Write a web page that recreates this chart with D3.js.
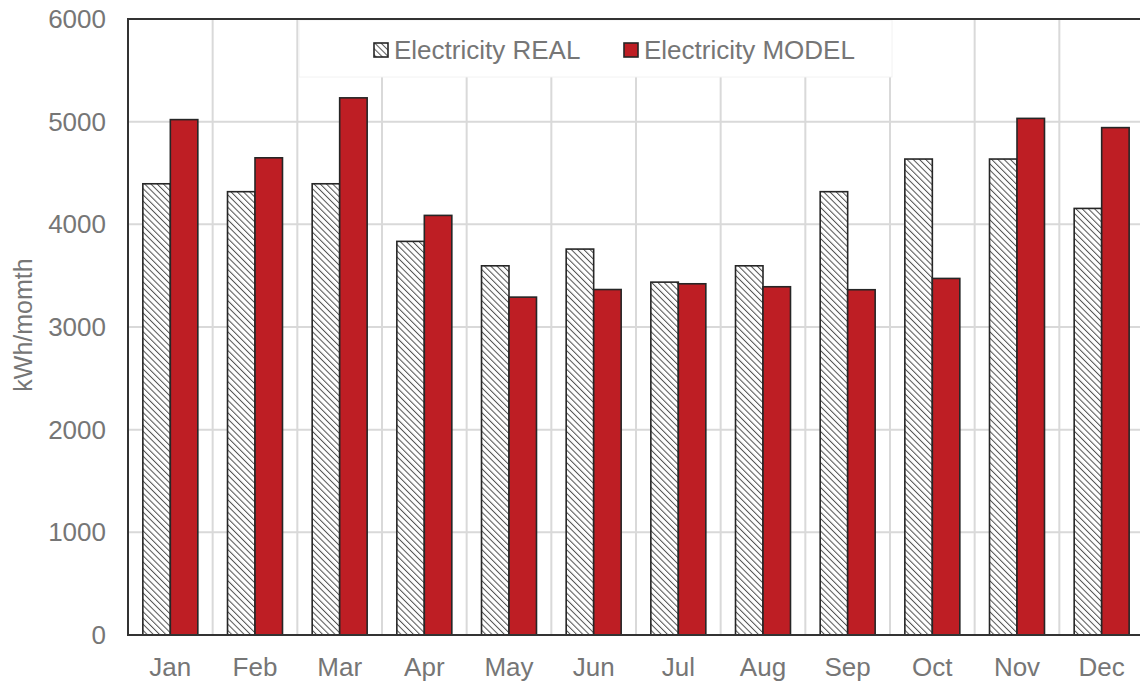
<!DOCTYPE html>
<html>
<head>
<meta charset="utf-8">
<script src="https://cdn.jsdelivr.net/npm/d3@7"></script>
<style>
  body { margin: 0; background: #fff; }
  svg text { font-family: "Liberation Sans", Arial, sans-serif; fill: #767676; }
</style>
</head>
<body>
<div id="vis"></div>
<script>
var months = ["Jan", "Feb", "Mar", "Apr", "May", "Jun", "Jul", "Aug", "Sep", "Oct", "Nov", "Dec"];
var realValues = [4395, 4318, 4395, 3834, 3596, 3759, 3437, 3596, 4318, 4636, 4636, 4155];
var modelValues = [5020, 4648, 5232, 4087, 3291, 3365, 3421, 3392, 3363, 3473, 5032, 4942];
var seriesNames = ["Electricity REAL", "Electricity MODEL"];
var yTicks = [0, 1000, 2000, 3000, 4000, 5000, 6000];

var w = 1140, h = 682;
var plotLeft = 128, plotRight = 1144, plotTop = 19, plotBottom = 635;

var svg = d3.select("#vis").append("svg")
  .attr("width", w)
  .attr("height", h);

// hatch pattern for the REAL series (downward diagonal)
var defs = svg.append("defs");
var pat = defs.append("pattern")
  .attr("id", "hatch")
  .attr("patternUnits", "userSpaceOnUse")
  .attr("width", 4.4)
  .attr("height", 4.4)
  .attr("patternTransform", "rotate(-45)");
pat.append("rect").attr("width", 4.4).attr("height", 4.4).attr("fill", "#fff");
pat.append("line")
  .attr("x1", 0).attr("y1", 0).attr("x2", 0).attr("y2", 4.4)
  .attr("stroke", "#505050").attr("stroke-width", 2);

var x0 = d3.scaleBand().domain(months).range([plotLeft, plotRight]);
var x1 = d3.scaleBand().domain(seriesNames).range([0, x0.bandwidth()]).paddingOuter(0.54);
var y = d3.scaleLinear().domain([0, 6000]).range([plotBottom, plotTop]);

// gridlines
svg.append("g").selectAll("line")
  .data(yTicks.filter(function(d){ return d > 0 && d < 6000; }))
  .enter().append("line")
  .attr("x1", plotLeft).attr("x2", plotRight)
  .attr("y1", function(d){ return y(d); })
  .attr("y2", function(d){ return y(d); })
  .attr("stroke", "#d9d9d9").attr("stroke-width", 2);

svg.append("g").selectAll("line")
  .data(months.slice(1))
  .enter().append("line")
  .attr("x1", function(d){ return x0(d); })
  .attr("x2", function(d){ return x0(d); })
  .attr("y1", plotTop).attr("y2", plotBottom)
  .attr("stroke", "#d9d9d9").attr("stroke-width", 2);

// bars
var data = months.map(function(m, i){
  return { month: m, values: [
    { key: seriesNames[0], value: realValues[i] },
    { key: seriesNames[1], value: modelValues[i] }
  ]};
});

var groups = svg.append("g").selectAll("g")
  .data(data)
  .enter().append("g")
  .attr("transform", function(d){ return "translate(" + x0(d.month) + ",0)"; });

groups.selectAll("rect")
  .data(function(d){ return d.values; })
  .enter().append("rect")
  .attr("x", function(d){ return x1(d.key); })
  .attr("width", x1.bandwidth())
  .attr("y", function(d){ return y(d.value); })
  .attr("height", function(d){ return plotBottom - y(d.value); })
  .attr("fill", function(d){ return d.key == seriesNames[0] ? "url(#hatch)" : "#be1e24"; })
  .attr("stroke", "#262626")
  .attr("stroke-width", 1.6);

// legend box
svg.append("rect")
  .attr("x", 299).attr("y", plotTop + 1)
  .attr("width", 593).attr("height", 57)
  .attr("fill", "#fff")
  .attr("stroke", "#f2f2f2");

var legendX = [374, 624];
var legend = svg.append("g").selectAll("g")
  .data(seriesNames)
  .enter().append("g")
  .attr("transform", function(d, i){ return "translate(" + legendX[i] + ",43)"; });
legend.append("rect")
  .attr("width", 14).attr("height", 14)
  .attr("fill", function(d, i){ return i == 0 ? "url(#hatch)" : "#be1e24"; })
  .attr("stroke", "#262626").attr("stroke-width", 1.6);
legend.append("text")
  .attr("x", 20).attr("y", 7)
  .attr("dy", "0.35em")
  .style("font-size", "26px")
  .text(function(d){ return d; });

// frame: left, top, bottom
svg.append("path")
  .attr("d", "M" + plotRight + "," + plotTop + "H" + plotLeft + "V" + plotBottom + "H" + plotRight)
  .attr("fill", "none")
  .attr("stroke", "#333")
  .attr("stroke-width", 2);

// y tick labels
svg.append("g").selectAll("text")
  .data(yTicks)
  .enter().append("text")
  .attr("x", 106)
  .attr("y", function(d){ return y(d); })
  .attr("dy", "0.35em")
  .attr("text-anchor", "end")
  .style("font-size", "26px")
  .text(function(d){ return d; });

// x labels
svg.append("g").selectAll("text")
  .data(months)
  .enter().append("text")
  .attr("x", function(d){ return x0(d) + x0.bandwidth() / 2; })
  .attr("y", 667)
  .attr("dy", "0.35em")
  .attr("text-anchor", "middle")
  .style("font-size", "26px")
  .text(function(d){ return d; });

// y axis title
svg.append("text")
  .attr("transform", "translate(23,325) rotate(-90)")
  .attr("text-anchor", "middle")
  .attr("dy", "0.35em")
  .style("font-size", "25px")
  .text("kWh/momth");
</script>
</body>
</html>
